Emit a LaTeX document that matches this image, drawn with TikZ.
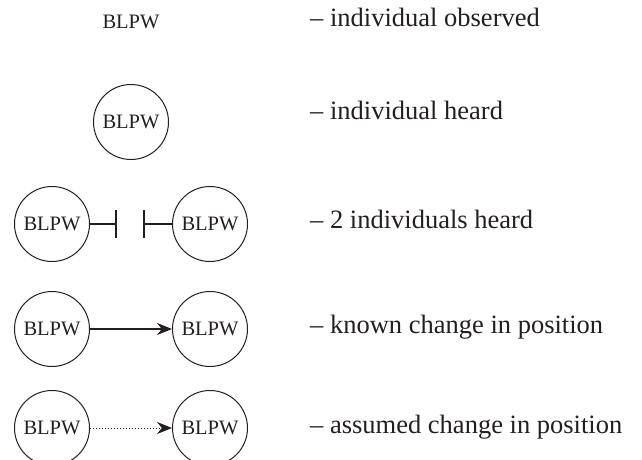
\documentclass[tikz,border=0pt]{standalone}
\usepackage{fontspec}
\setmainfont{Liberation Serif}
\usetikzlibrary{arrows.meta}
\definecolor{ink}{HTML}{231F20}
\begin{document}
\begin{tikzpicture}[x=1pt,y=-1pt, color=ink,
  bird/.style={font=\fontsize{20.5}{22}\selectfont, inner sep=0pt},
  heard/.style={bird, circle, draw, line width=1pt, minimum size=75pt},
  legend/.style={anchor=base west, inner sep=0pt, font=\fontsize{26.5}{28}\selectfont},
  conn/.style={line width=1.1pt},
  arr/.style={conn, -{Stealth[length=15pt,width=12pt]}},
  dotarr/.style={line width=1pt, dotted, -{Stealth[length=15pt,width=12pt]}}
]
\useasboundingbox (0,0) rectangle (642,460);
% row 1
\node[bird] (o1) at (131,22) {BLPW};
\node[legend] (t1) at (310,27) {– individual observed};
% row 2
\node[heard] (h1) at (131,122) {BLPW};
\node[legend] (t2) at (310,119) {– individual heard};
% row 3
\node[heard] (a3) at (52,224) {BLPW};
\node[heard] (b3) at (210,224) {BLPW};
\coordinate (l3) at (116,224);
\coordinate (r3) at (144,224);
\draw[conn] (a3.east) -- (l3);
\draw[conn] ([yshift=-14pt]l3) -- ([yshift=14pt]l3);
\draw[conn] (b3.west) -- (r3);
\draw[conn] ([yshift=-14pt]r3) -- ([yshift=14pt]r3);
\node[legend] (t3) at (310,228) {– 2 individuals heard};
% row 4
\node[heard] (a4) at (52,329) {BLPW};
\node[heard] (b4) at (210,329) {BLPW};
\draw[arr] (a4) -- (b4);
\node[legend] (t4) at (310,333) {– known change in position};
% row 5
\node[heard] (a5) at (52,428) {BLPW};
\node[heard] (b5) at (210,428) {BLPW};
\draw[dotarr] (a5) -- (b5);
\node[legend] (t5) at (310,433) {– assumed change in position};
\end{tikzpicture}
\end{document}
